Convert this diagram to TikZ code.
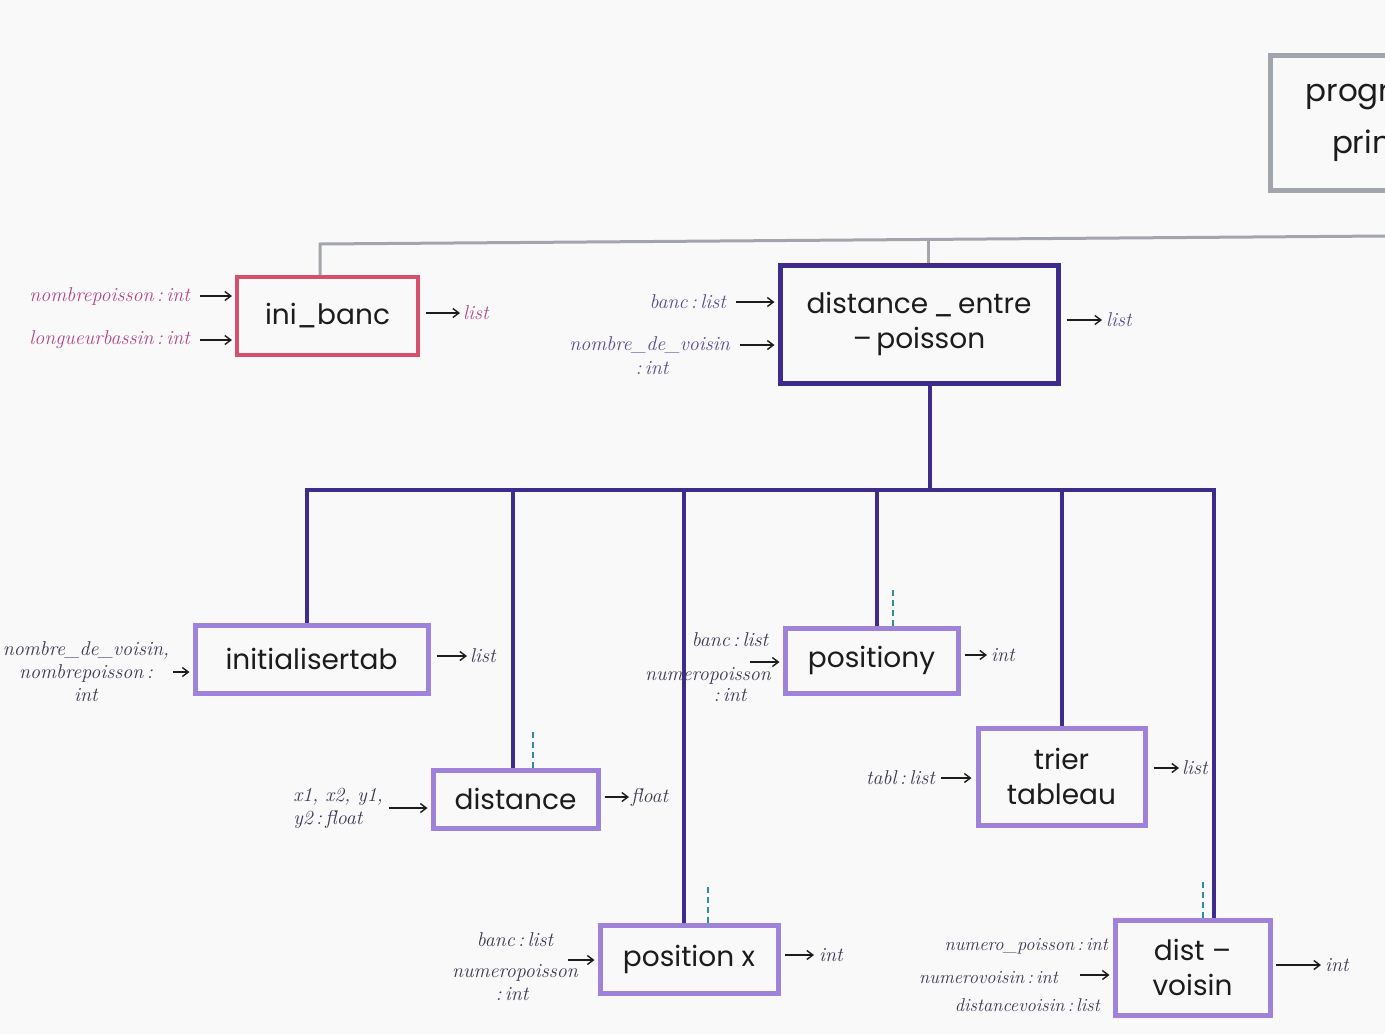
\documentclass[tikz,border=0pt]{standalone}
\usepackage{fontspec}
\newfontfamily\hand{Poppins}
\usetikzlibrary{arrows.meta}
\definecolor{paper}{HTML}{F9F9F9}
\definecolor{redc}{HTML}{D4506C}
\definecolor{pinktxt}{HTML}{B0478A}
\definecolor{darkp}{HTML}{3F2B8C}
\definecolor{lightp}{HTML}{9F82D9}
\definecolor{deptxt}{HTML}{5A4890}
\definecolor{lbltxt}{HTML}{3D3550}
\definecolor{tealc}{HTML}{2E8C9C}
\definecolor{grayc}{HTML}{A3A5AD}
\definecolor{inkc}{HTML}{1C1C1C}
\tikzset{
  box/.style={draw, rectangle, line width=4pt, inner sep=0pt, align=center, text=inkc,
    font=\hand\fontsize{28}{35}\selectfont},
  redbox/.style={box, draw=redc},
  darkbox/.style={box, draw=darkp, line width=5pt},
  lightbox/.style={box, draw=lightp, line width=5pt},
  graybox/.style={box, draw=grayc, line width=5pt, font=\hand\fontsize{31}{52}\selectfont},
  lbl/.style={inner sep=0pt, align=center, text=lbltxt, font=\itshape\fontsize{20}{23}\selectfont},
  smlbl/.style={lbl, font=\itshape\fontsize{18.5}{22}\selectfont},
  pinklbl/.style={lbl, text=pinktxt},
  deplbl/.style={lbl, text=deptxt},
  arr/.style={-{Straight Barb[length=6pt,width=9pt]}, line width=1.4pt, draw=inkc},
  darkline/.style={draw=darkp, line width=4pt},
  grayline/.style={draw=grayc, line width=3pt},
  tealdash/.style={draw=tealc, line width=2.5pt, dash pattern=on 6pt off 4pt},
}
\begin{document}
\begin{tikzpicture}[x=1pt,y=-1pt]
\useasboundingbox (0,0) rectangle (1385,1034);
\clip (0,0) rectangle (1385,1034);
\fill[paper] (0,0) rectangle (1385,1034);

% ---------- boxes ----------
\node[graybox, minimum width=260pt, minimum height=135pt] (mp) at (1400,122.5) {programme\\principal};
\node[redbox, minimum width=181pt, minimum height=78pt] (ib) at (327.5,316) {ini\_banc};
\node[darkbox, minimum width=278pt, minimum height=118pt] (dep) at (919,324) {distance\,\_\,entre\\–\,poisson};
\node[lightbox, minimum width=233pt, minimum height=68pt] (it) at (311.5,659) {initialisertab};
\node[lightbox, minimum width=165pt, minimum height=58pt] (di) at (515.5,799) {distance};
\node[lightbox, minimum width=173pt, minimum height=65pt] (py) at (871.5,660.5) {positiony};
\node[lightbox, minimum width=167pt, minimum height=97pt] (tt) at (1061.5,776.5) {trier\\tableau};
\node[lightbox, minimum width=178pt, minimum height=68pt] (px) at (689,959) {position x};
\node[lightbox, minimum width=155pt, minimum height=95pt] (dv) at (1192.5,967.5) {dist –\\voisin};

% ---------- gray tree (top) ----------
\coordinate (gL) at (320,244);
\coordinate (gM) at (928,240);
\coordinate (gR) at (1385,236);
\draw[grayline] (ib.north -| gL) -- (gL) -- (gR);
\draw[grayline] (dep.north -| gM) -- (gM);

% ---------- dark purple tree ----------
\coordinate (d0) at (930,490);
\coordinate (d1) at (307,490);
\coordinate (d2) at (513,490);
\coordinate (d3) at (684,490);
\coordinate (d4) at (877,490);
\coordinate (d5) at (1062,490);
\coordinate (d6) at (1214,490);
\draw[darkline] (d0 |- dep.south) -- (d0);
\draw[darkline] ([xshift=-2pt]d1) -- ([xshift=2pt]d6);
\draw[darkline] (d1) -- (d1 |- it.north);
\draw[darkline] (d2) -- (d2 |- di.north);
\draw[darkline] (d3) -- (d3 |- px.north);
\draw[darkline] (d4) -- (d4 |- py.north);
\draw[darkline] (d5) -- (d5 |- tt.north);
\draw[darkline] (d6) -- (d6 |- dv.north);

% ---------- teal dashed marks ----------
\draw[tealdash] ([xshift=21.5pt]py.north) -- ++(0,-38);
\draw[tealdash] ([xshift=17.5pt]di.north) -- ++(0,-36);
\draw[tealdash] ([xshift=19pt]px.north) -- ++(0,-38);
\draw[tealdash] ([xshift=10.5pt]dv.north) -- ++(0,-38);

% ---------- ini_banc ----------
\node[pinklbl, anchor=east] (ib1) at (190,296) {nombrepoisson\,:\,int};
\node[pinklbl, anchor=east] (ib2) at (190,340) {longueurbassin\,:\,int};
\draw[arr, shorten <=10pt, shorten >=3pt] (ib1.east) -- (ib1.east -| ib.west);
\draw[arr, shorten <=10pt, shorten >=3pt] (ib2.east) -- (ib2.east -| ib.west);
\node[pinklbl, anchor=west] (ibo) at (463,313) {list};
\draw[arr, shorten <=6pt, shorten >=3pt] (ibo.west -| ib.east) -- (ibo.west);

% ---------- distance_entre_poisson ----------
\node[deplbl, anchor=east] (dep1) at (726,302) {banc\,:\,list};
\node[deplbl, anchor=east] (dep2) at (730,345) {nombre\_de\_voisin};
\node[deplbl] (dep3) at (652,368) {:\,int};
\draw[arr, shorten <=10pt, shorten >=3pt] (dep1.east) -- (dep1.east -| dep.west);
\draw[arr, shorten <=10pt, shorten >=3pt] (dep2.east) -- (dep2.east -| dep.west);
\node[deplbl, anchor=west] (depo) at (1106,320) {list};
\draw[arr, shorten <=6pt, shorten >=4pt] (depo.west -| dep.east) -- (depo.west);

% ---------- initialisertab ----------
\node[lbl] (it1) at (86,672) {nombre\_de\_voisin,\\nombrepoisson\,:\\int};
\draw[arr, shorten <=4pt, shorten >=3pt] (it1.east) -- (it1.east -| it.west);
\node[lbl, anchor=west] (ito) at (470,656) {list};
\draw[arr, shorten <=6pt, shorten >=3pt] (ito.west -| it.east) -- (ito.west);

% ---------- distance ----------
\node[lbl, align=left] (di1) at (338,808) {x1, x2, y1,\\y2\,:\,float};
\draw[arr, shorten <=6pt, shorten >=3pt] (di1.east) -- (di1.east -| di.west);
\node[lbl, anchor=west] (dio) at (631,797) {float};
\draw[arr, shorten <=4pt, shorten >=2pt] (dio.west -| di.east) -- (dio.west);

% ---------- positiony ----------
\node[lbl] (py1) at (730,640) {banc\,:\,list};
\node[lbl] (py2) at (708,676) {numeropoisson};
\node[lbl] (py3) at (730,695) {:\,int};
\coordinate (pyin) at (750,662);
\draw[arr, shorten >=3pt] (pyin) -- (pyin -| py.west);
\node[lbl, anchor=west] (pyo) at (991,655) {int};
\draw[arr, shorten <=4pt, shorten >=4pt] (pyo.west -| py.east) -- (pyo.west);

% ---------- trier tableau ----------
\node[lbl, anchor=east] (tt1) at (935,778) {tabl\,:\,list};
\draw[arr, shorten <=6pt, shorten >=4pt] (tt1.east) -- (tt1.east -| tt.west);
\node[lbl, anchor=west] (tto) at (1182,768) {list};
\draw[arr, shorten <=6pt, shorten >=3pt] (tto.west -| tt.east) -- (tto.west);

% ---------- position x ----------
\node[lbl] (px1) at (515,940) {banc\,:\,list};
\node[lbl] (px2) at (515,973) {numeropoisson};
\node[lbl] (px3) at (512,994) {:\,int};
\coordinate (pxin) at (568,960);
\draw[arr, shorten >=3pt] (pxin) -- (pxin -| px.west);
\node[lbl, anchor=west] (pxo) at (819,955) {int};
\draw[arr, shorten <=4pt, shorten >=5pt] (pxo.west -| px.east) -- (pxo.west);

% ---------- dist_voisin ----------
\node[smlbl, anchor=east] (dv1) at (1108,946) {numero\_poisson\,:\,int};
\node[smlbl, anchor=east] (dv2) at (1058,978) {numerovoisin\,:\,int};
\node[smlbl, anchor=east] (dv3) at (1100,1005) {distancevoisin\,:\,list};
\coordinate (dvin) at (1080,975);
\draw[arr, shorten >=3pt] (dvin) -- (dvin -| dv.west);
\node[lbl, anchor=west] (dvo) at (1325,965) {int};
\draw[arr, shorten <=3pt, shorten >=4pt] (dvo.west -| dv.east) -- (dvo.west);
\end{tikzpicture}
\end{document}
